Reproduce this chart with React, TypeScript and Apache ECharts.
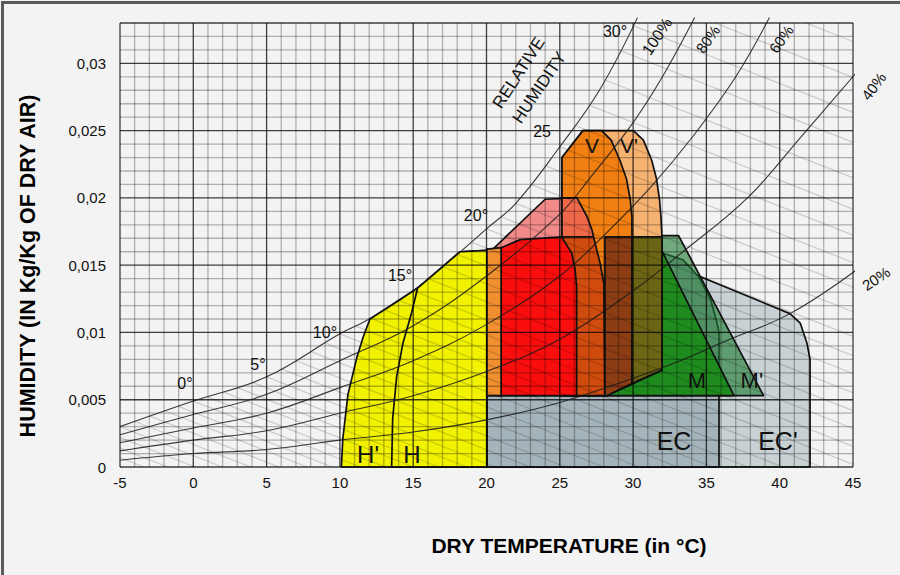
import React, { useEffect, useRef } from "react";
import * as echarts from "echarts";

// ---------- axes ----------
const xMin = -5;
const xMax = 45;
const xStep = 5;
const yMin = 0;
const yMax = 0.033;
const yStep = 0.005;

// ---------- relative humidity curves  [dry temperature °C, humidity kg/kg] ----------
const rh100 = [[-5, 0.003], [0, 0.0049], [5, 0.0067], [10, 0.0099], [12, 0.011], [15, 0.0131], [18, 0.0158], [20, 0.0177], [22, 0.0196], [25, 0.0238], [27.7, 0.028], [30.3, 0.0334]];
const rh80 = [[-5, 0.0024], [0, 0.0039], [5, 0.0054], [10, 0.0079], [15, 0.0105], [20, 0.0142], [25, 0.0188], [27, 0.0214], [30, 0.0256], [32, 0.029], [34.2, 0.0334]];
const rh60 = [[-5, 0.0018], [0, 0.0029], [5, 0.004], [10, 0.0059], [15, 0.0079], [20, 0.0106], [25, 0.0142], [28, 0.0172], [31.2, 0.0208], [34.1, 0.0246], [37, 0.029], [39.3, 0.0334]];
const rh40 = [[-5, 0.0012], [0, 0.002], [5, 0.0027], [10, 0.004], [15, 0.0053], [20, 0.0071], [25, 0.0095], [30, 0.0131], [33.4, 0.016], [37.8, 0.02], [41.5, 0.0246], [45.3, 0.0294]];
const rh20 = [[-5, 0.0005], [0, 0.001], [5, 0.0013], [10, 0.002], [15, 0.0026], [20, 0.0035], [25, 0.0048], [30, 0.0066], [33, 0.0078], [36.4, 0.0094], [40.7, 0.0114], [45.3, 0.0147]];

// wet-bulb lines: start points (on the saturation curve / chart edge) and their slope (kg/kg per °C)
const wetBulbStarts = [[-5, 0.0007], [-5, 0.0014], [-5, 0.0022], [-5, 0.003], [-4, 0.0034], [-3, 0.0038], [-2, 0.0042], [-1, 0.0045], [0, 0.0049], [1, 0.0052], [2, 0.0056], [3, 0.0059], [4, 0.0063], [5, 0.0067], [6, 0.0073], [7, 0.0079], [8, 0.0086], [9, 0.0092], [10, 0.0099], [11, 0.0105], [12, 0.0111], [13, 0.0117], [14, 0.0124], [15, 0.0131], [16, 0.014], [17, 0.0149], [18, 0.0158], [19, 0.0167], [20, 0.0177], [21, 0.0186], [22, 0.0196], [23, 0.021], [24, 0.0224], [25, 0.0238], [26, 0.0254], [27, 0.0269], [28, 0.0288], [29, 0.031], [30, 0.0328], [35.6, 0.033], [41.8, 0.033]];
const wetBulbSlope = -0.00043;

// ---------- zones (polygons) ----------
const zoneECp = [[20, 0], [20, 0.0053], [27.5, 0.0173], [30, 0.0162], [40.7, 0.0114], [41.4, 0.0107], [41.86, 0.0092], [42.07, 0.008], [42.07, 0]];
const zoneEC = [[20, 0], [20, 0.0053], [27, 0.0181], [29.8, 0.0169], [32, 0.0159], [33.4, 0.0154], [34.5, 0.0141], [35.3, 0.0124], [35.72, 0.0107], [35.86, 0.01], [35.86, 0]];
const zoneHp = [[10.1, 0], [10.2, 0.0021], [10.55, 0.0054], [11.17, 0.0082], [11.6, 0.0097], [12.05, 0.011], [15.3, 0.0133], [18.2, 0.016], [20.03, 0.0161], [20.03, 0]];
const zoneH = [[13.53, 0], [13.6, 0.0036], [13.87, 0.0067], [14.3, 0.0092], [14.9, 0.0115], [15.3, 0.0133], [18.2, 0.016], [20.03, 0.0161], [20.03, 0]];
const zoneMp = [[28.08, 0.0053], [28.08, 0.0172], [33.1, 0.0172], [38.9, 0.0053]];
const zoneM = [[28.08, 0.0053], [28.08, 0.0172], [31.45, 0.0172], [36.88, 0.0053]];
const zoneP = [[20.03, 0.0053], [20.03, 0.0162], [20.44, 0.0162], [24.0, 0.0199], [26.17, 0.02], [26.86, 0.0186], [27.2, 0.0176], [27.74, 0.0152], [28.01, 0.0136], [28.08, 0.0053]];
const zoneVp = [[25.15, 0.0053], [25.15, 0.023], [26.58, 0.025], [30.02, 0.025], [30.7, 0.0243], [31.27, 0.0228], [31.6, 0.0214], [31.8, 0.0199], [31.9, 0.0186], [31.97, 0.0171], [31.97, 0.0072], [28.2, 0.0053]];
const zoneV = [[25.15, 0.0053], [25.15, 0.023], [26.58, 0.025], [27.85, 0.025], [28.5, 0.0243], [29.1, 0.0228], [29.55, 0.0214], [29.8, 0.0199], [29.92, 0.0186], [29.92, 0.0062], [28.2, 0.0053]];
const zoneVP = [[25.15, 0.0171], [25.15, 0.02], [26.17, 0.02], [26.86, 0.0186], [27.2, 0.0176], [27.3, 0.0171]];
const zoneVR = [[25.15, 0.0053], [25.15, 0.0171], [27.3, 0.0171], [27.74, 0.0152], [28.01, 0.0136], [28.08, 0.0053]];
const zoneVM = [[28.08, 0.0053], [28.08, 0.0171], [29.92, 0.0171], [29.92, 0.0062], [28.2, 0.0053]];
const zoneVpM = [[29.92, 0.0062], [29.92, 0.0171], [31.97, 0.0171], [31.97, 0.0072]];
const zoneR = [[21.0, 0.0053], [21.0, 0.0163], [22.3, 0.0169], [25.13, 0.0171], [25.81, 0.0159], [26.04, 0.0147], [26.15, 0.0134], [26.15, 0.0053]];
const zoneS = [[20.03, 0.0053], [20.03, 0.0162], [21.0, 0.0163], [21.0, 0.0053]];

const zoneList = [zoneECp, zoneEC, zoneHp, zoneH, zoneMp, zoneM, zoneP, zoneVp, zoneV, zoneVP, zoneVR, zoneVM, zoneVpM, zoneR, zoneS];
const zoneFills = ["#c8d1d4", "#a4b4ba", "#f2f200", "#f2f200", "rgba(30,122,48,0.62)", "#1f8b1f", "#f28a8a", "#f6b271", "#f27f12", "#f0684a", "#d04b0e", "#8c3d14", "#6c6515", "#fa0d0d", "#ef8f30"];

// ---------- texts ----------
const curveLabels = ["0°", "5°", "10°", "15°", "20°", "25", "30°"];
const curveLabelPos = [[-0.57, 0.0062], [4.41, 0.0076], [8.98, 0.01], [14.1, 0.0142], [19.28, 0.0187], [23.79, 0.0249], [28.77, 0.0324]];
const rhLabels = ["100%", "80%", "60%", "40%", "20%", "RELATIVE", "HUMIDITY"];
const rhLabelPos = [[31.63, 0.032], [35.1, 0.0318], [40.1, 0.0318], [46.4, 0.0283], [46.57, 0.014], [22.2, 0.0293], [23.6, 0.0282]];
const rhLabelAngle = [56, 55, 55, 53, 34, 57, 56];
const rhLabelSize = [16, 15, 15, 15, 15, 17, 17];
const zoneLabels = ["V", "V'", "M", "M'", "EC", "EC'", "H'", "H"];
const zoneLabelPos = [[27.2, 0.0239], [29.72, 0.0239], [34.36, 0.0064], [38.1, 0.0064], [32.79, 0.0019], [39.88, 0.0019], [11.92, 0.0009], [14.92, 0.0009]];
const zoneLabelSize = [21, 21, 22, 22, 25, 25, 24, 24];

const FONT = "'Liberation Sans', Arial, sans-serif";

type Ann = { text: string; pos: number[]; size: number; rot: number };
const annotations: Ann[] = [
  ...curveLabels.map((t, i) => ({ text: t, pos: curveLabelPos[i], size: 16, rot: 0 })),
  ...rhLabels.map((t, i) => ({ text: t, pos: rhLabelPos[i], size: rhLabelSize[i], rot: rhLabelAngle[i] })),
  ...zoneLabels.map((t, i) => ({ text: t, pos: zoneLabelPos[i], size: zoneLabelSize[i], rot: 0 })),
];

function buildOption(): any {
  const rhSeries = [rh100, rh80, rh60, rh40, rh20].map((d, i) => ({
    type: "line",
    name: "rh" + i,
    data: d,
    smooth: 0.4,
    symbol: "none",
    clip: false,
    silent: true,
    z: 7,
    lineStyle: { color: "rgba(25,25,25,0.85)", width: 1.1 },
  }));

  return {
    animation: false,
    backgroundColor: "#f3f3f3",
    grid: { left: 120, right: 47, top: 23, bottom: 108 },
    xAxis: {
      type: "value",
      min: xMin,
      max: xMax,
      interval: xStep,
      axisLine: { show: false },
      axisTick: { show: false },
      splitLine: { show: false },
      axisLabel: { color: "#111", fontSize: 15, fontFamily: FONT, margin: 8 },
    },
    yAxis: {
      type: "value",
      min: yMin,
      max: yMax,
      interval: yStep,
      axisLine: { show: false },
      axisTick: { show: false },
      splitLine: { show: false },
      axisLabel: {
        color: "#111",
        fontSize: 15,
        fontFamily: FONT,
        margin: 14,
        formatter: (v: number) => (v > 0.0305 ? "" : String(+v.toFixed(3)).replace(".", ",")),
      },
    },
    graphic: [
      { type: "rect", left: 0, top: 0, shape: { width: 900, height: 575 }, style: { fill: "none", stroke: "#5a5a5a", lineWidth: 3 } },
      {
        type: "text",
        x: 569,
        y: 545,
        style: { text: "DRY TEMPERATURE (in °C)", font: "bold 21px " + FONT, fill: "#000", align: "center", verticalAlign: "middle" },
      },
      {
        type: "text",
        x: 28,
        y: 266,
        rotation: Math.PI / 2,
        style: { text: "HUMIDITY (IN Kg/Kg OF DRY AIR)", font: "bold 21.5px " + FONT, fill: "#000", align: "center", verticalAlign: "middle" },
      },
    ],
    series: [
      {
        type: "custom",
        name: "zones",
        silent: true,
        z: 2,
        data: zoneList.map((p) => p[0]),
        renderItem: (params: any, api: any) => {
          const poly = zoneList[params.dataIndex];
          return {
            type: "polygon",
            shape: { points: poly.map((p) => api.coord(p)) },
            style: { fill: zoneFills[params.dataIndex], stroke: "#111", lineWidth: 1.7, lineJoin: "round" },
          };
        },
      },
      {
        type: "custom",
        name: "wetbulb",
        silent: true,
        z: 4,
        data: [[xMin, yMin]],
        renderItem: (params: any, api: any) => {
          const children: any[] = [];
          wetBulbStarts.forEach(([t0, w0]) => {
            let t1 = t0 + w0 / -wetBulbSlope;
            let w1 = 0;
            if (t1 > xMax) {
              t1 = xMax;
              w1 = w0 + wetBulbSlope * (xMax - t0);
            }
            const a = api.coord([t0, w0]);
            const b = api.coord([t1, w1]);
            children.push({ type: "line", shape: { x1: a[0], y1: a[1], x2: b[0], y2: b[1] }, style: { stroke: "rgba(0,0,0,0.16)", lineWidth: 1.3 } });
          });
          return { type: "group", children };
        },
      },
      {
        type: "custom",
        name: "grid",
        silent: true,
        z: 5,
        data: [[xMin, yMin]],
        renderItem: (params: any, api: any) => {
          const minor: any[] = [];
          const major: any[] = [];
          for (let t = xMin; t <= xMax; t++) {
            const a = api.coord([t, yMin]);
            const b = api.coord([t, yMax]);
            const isMajor = t % xStep === 0;
            (isMajor ? major : minor).push({
              type: "line",
              shape: { x1: a[0], y1: a[1], x2: b[0], y2: b[1] },
              style: { stroke: isMajor ? "rgba(0,0,0,0.75)" : "rgba(0,0,0,0.28)", lineWidth: 1.3 },
            });
          }
          for (let k = 0; k <= 33; k++) {
            const w = k / 1000;
            const a = api.coord([xMin, w]);
            const b = api.coord([xMax, w]);
            const isMajor = k % 5 === 0 || k === 33;
            (isMajor ? major : minor).push({
              type: "line",
              shape: { x1: a[0], y1: a[1], x2: b[0], y2: b[1] },
              style: { stroke: isMajor ? "rgba(0,0,0,0.75)" : "rgba(0,0,0,0.28)", lineWidth: 1.3 },
            });
          }
          return { type: "group", children: [...minor, ...major] };
        },
      },
      ...rhSeries,
      {
        type: "custom",
        name: "texts",
        silent: true,
        z: 9,
        data: annotations.map((a) => a.pos),
        renderItem: (params: any, api: any) => {
          const a = annotations[params.dataIndex];
          const p = api.coord(a.pos);
          return {
            type: "text",
            x: p[0],
            y: p[1],
            rotation: (a.rot * Math.PI) / 180,
            style: { text: a.text, font: a.size + "px " + FONT, fill: "#111", align: "center", verticalAlign: "middle" },
          };
        },
      },
    ],
  };
}

export default function App() {
  const ref = useRef<HTMLDivElement>(null);
  useEffect(() => {
    if (!ref.current) return;
    const chart = echarts.init(ref.current, null, { renderer: "svg" });
    chart.setOption(buildOption());
    return () => chart.dispose();
  }, []);
  return <div ref={ref} style={{ position: "fixed", left: 0, top: 0, width: 900, height: 575 }} />;
}
